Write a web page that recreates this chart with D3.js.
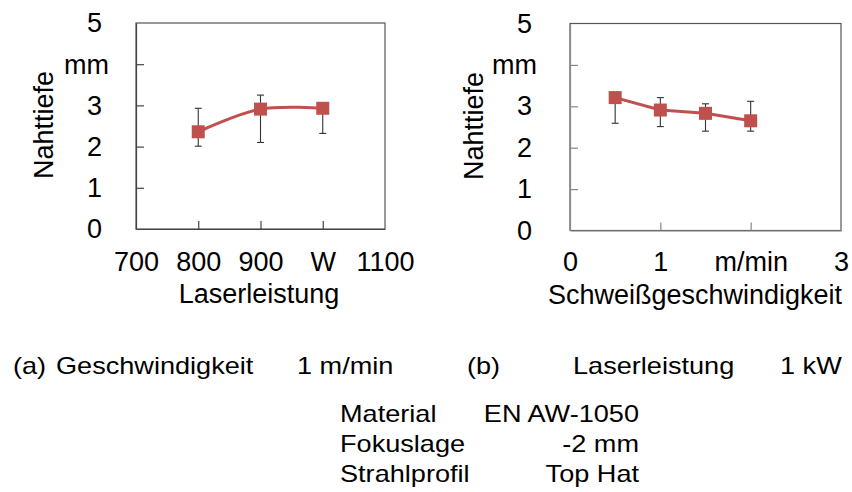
<!DOCTYPE html>
<html>
<head>
<meta charset="utf-8">
<script src="https://cdn.jsdelivr.net/npm/d3@7"></script>
<style>
  html, body { margin: 0; padding: 0; background: #fff; }
  svg { display: block; font-family: "Liberation Sans", Arial, sans-serif; }
</style>
</head>
<body>
<svg id="chart" width="852" height="492"></svg>
<script>
// ---- data ----
const powerX = [800, 900, 1000];
const powerDepth = [2.36, 2.91, 2.93];
const powerErrLow = [2.01, 2.10, 2.32];
const powerErrHigh = [2.93, 3.25, 3.00];

const speedX = [0.5, 1, 1.5, 2];
const speedDepth = [3.21, 2.91, 2.83, 2.65];
const speedErrLow = [2.59, 2.51, 2.40, 2.40];
const speedErrHigh = [3.22, 3.21, 3.06, 3.12];

const yTicks = [0, 1, 2, 3, 4, 5];
const yTickLabels = ["0", "1", "2", "3", "", "5"];
const powerTicks = [700, 800, 900, 1000, 1100];
const powerTickLabels = ["700", "800", "900", "W", "1100"];
const speedTicks = [0, 1, 2, 3];
const speedTickLabels = ["0", "1", "m/min", "3"];

const yTitle = "Nahttiefe";
const yUnit = "mm";
const powerTitle = "Laserleistung";
const speedTitle = "Schweißgeschwindigkeit";

const captionRow = [
  {t: "(a)", x: 13}, {t: "Geschwindigkeit", x: 56}, {t: "1 m/min", x: 297},
  {t: "(b)", x: 467}, {t: "Laserleistung", x: 573}, {t: "1 kW", x: 780}
];
const paramNames = ["Material", "Fokuslage", "Strahlprofil"];
const paramValues = ["EN AW-1050", "-2 mm", "Top Hat"];

const red = "#C0504D";
const svg = d3.select("#chart");

function panel(cfg) {
  const x = d3.scaleLinear().domain(cfg.xDomain).range(cfg.xRange);
  const y = d3.scaleLinear().domain([0, 5]).range(cfg.yRange);
  const g = svg.append("g");
  const [x0, x1] = cfg.xRange, [y0, y1] = cfg.yRange;

  // frame
  g.append("rect").attr("x", x0).attr("y", y1).attr("width", x1 - x0).attr("height", y0 - y1)
    .attr("fill", "none").attr("stroke", cfg.frameColor).attr("stroke-width", 1.2);

  // y axis
  const ya = g.append("g").attr("transform", `translate(${x0},0)`)
    .call(d3.axisLeft(y).tickValues(yTicks).tickSizeInner(-8).tickSizeOuter(0)
      .tickPadding(cfg.yPad).tickFormat((d, i) => yTickLabels[i]));
  ya.select(".domain").attr("stroke", cfg.axisColor).attr("stroke-width", 1.2);
  ya.selectAll(".tick line").attr("stroke", cfg.axisColor).attr("stroke-width", 1.2);
  ya.selectAll(".tick text").attr("font-size", 27).attr("fill", "#000")
    .attr("font-family", "Liberation Sans, Arial, sans-serif");

  // x axis
  const xa = g.append("g").attr("transform", `translate(0,${y0})`)
    .call(d3.axisBottom(x).tickValues(cfg.xTicks).tickSizeInner(-8).tickSizeOuter(0)
      .tickPadding(cfg.xPad).tickFormat((d, i) => cfg.xTickLabels[i]));
  xa.select(".domain").attr("stroke", cfg.axisColor).attr("stroke-width", 1.2);
  xa.selectAll(".tick line").attr("stroke", cfg.axisColor).attr("stroke-width", 1.2);
  xa.selectAll(".tick text").attr("font-size", 27).attr("fill", "#000")
    .attr("font-family", "Liberation Sans, Arial, sans-serif");
  xa.selectAll(".tick line").filter(d => d === cfg.xDomain[0] || d === cfg.xDomain[1]).remove();
  ya.selectAll(".tick line").filter(d => d === 0 || d === 5).remove();

  // unit label
  g.append("text").attr("x", cfg.unitX).attr("y", y(4) + 9.5).attr("text-anchor", "end")
    .attr("font-size", 27).text(yUnit);

  // y title
  g.append("text").attr("transform", `translate(${cfg.yTitleX},${cfg.yTitleY}) rotate(-90)`)
    .attr("text-anchor", "middle").attr("font-size", 27).text(yTitle);
  // x title
  g.append("text").attr("x", cfg.xTitleX).attr("y", cfg.xTitleY)
    .attr("text-anchor", "middle").attr("font-size", 27).text(cfg.xTitle);

  // error bars
  const eb = g.append("g").attr("stroke", "#333").attr("stroke-width", 1.1);
  cfg.xs.forEach((xv, i) => {
    const cx = x(xv);
    eb.append("line").attr("x1", cx).attr("x2", cx).attr("y1", y(cfg.lo[i])).attr("y2", y(cfg.hi[i]));
    eb.append("line").attr("x1", cx - 3.5).attr("x2", cx + 3.5).attr("y1", y(cfg.lo[i])).attr("y2", y(cfg.lo[i]));
    eb.append("line").attr("x1", cx - 3.5).attr("x2", cx + 3.5).attr("y1", y(cfg.hi[i])).attr("y2", y(cfg.hi[i]));
  });

  // line
  const pts = cfg.xs.map((xv, i) => [x(xv), y(cfg.ys[i])]);
  g.append("path").attr("d", d3.line().curve(cfg.curve)(pts))
    .attr("fill", "none").attr("stroke", red).attr("stroke-width", 3);

  // markers
  g.selectAll("rect.m").data(pts).enter().append("rect").attr("class", "m")
    .attr("x", d => d[0] - 6.5).attr("y", d => d[1] - 6.5)
    .attr("width", 13).attr("height", 13).attr("fill", red);
}

panel({
  xDomain: [700, 1100], xRange: [136, 385], yRange: [229, 23],
  xTicks: powerTicks, xTickLabels: powerTickLabels,
  xs: powerX, ys: powerDepth, lo: powerErrLow, hi: powerErrHigh,
  curve: d3.curveCatmullRom, yPad: 34, xPad: 23, unitX: 109,
  yTitleX: 53, yTitleY: 125, xTitle: powerTitle, xTitleX: 259, xTitleY: 303,
  frameColor: "#555", axisColor: "#444"
});

panel({
  xDomain: [0, 3], xRange: [570, 841], yRange: [230.5, 23.5],
  xTicks: speedTicks, xTickLabels: speedTickLabels,
  xs: speedX, ys: speedDepth, lo: speedErrLow, hi: speedErrHigh,
  curve: d3.curveLinear, yPad: 38, xPad: 21, unitX: 537,
  yTitleX: 483, yTitleY: 126, xTitle: speedTitle, xTitleX: 695, xTitleY: 304,
  frameColor: "#555", axisColor: "#888"
});

// captions
const cap = svg.append("g").attr("font-size", 24);
captionRow.forEach(c => {
  cap.append("text").attr("transform", `translate(${c.x},374) scale(1.13,1)`).text(c.t);
});
paramNames.forEach((n, i) => {
  cap.append("text").attr("transform", `translate(340,${422 + i * 30}) scale(1.13,1)`).text(n);
  cap.append("text").attr("transform", `translate(639,${422 + i * 30}) scale(1.13,1)`)
    .attr("text-anchor", "end").text(paramValues[i]);
});
</script>
</body>
</html>
